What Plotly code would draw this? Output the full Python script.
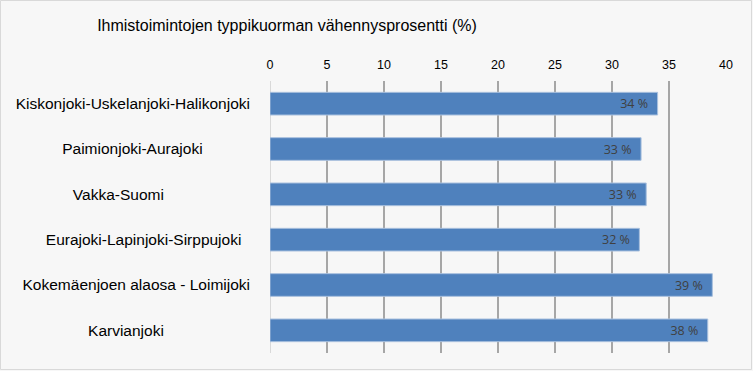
import plotly.graph_objects as go

categories = [
    "Kiskonjoki-Uskelanjoki-Halikonjoki",
    "Paimionjoki-Aurajoki",
    "Vakka-Suomi",
    "Eurajoki-Lapinjoki-Sirppujoki",
    "Kokemäenjoen alaosa - Loimijoki",
    "Karvianjoki",
]
values = [34.0, 32.55, 33.0, 32.4, 38.8, 38.4]
x_ticks = [0, 5, 10, 15, 20, 25, 30, 35, 40]
title_text = "Ihmistoimintojen typpikuorman vähennysprosentti (%)"

# label padding (number of non-breaking spaces) to mimic original label placement
label_pad = [0, 11, 20, 2, 0, 20]

W, H = 753, 371
ML, MR, MT, MB = 270, 27, 81, 18
PW, PH = W - ML - MR, H - MT - MB

ticktext = [c + "\u00a0" * p for c, p in zip(categories, label_pad)]
texts = [f"{round(v):.0f} %\u00a0\u00a0" for v in values]

fig = go.Figure()
fig.add_trace(go.Bar(
    x=values, y=categories, orientation="h",
    marker=dict(color="#4f81bd", line=dict(color="#a9c0de", width=1)),
    text=texts, textposition="inside", insidetextanchor="end", constraintext="none",
    textfont=dict(family="Open Sans", size=12.5, color="#404040"),
    cliponaxis=False, hoverinfo="skip",
))

sans = "Liberation Sans, Arial"
fig.update_layout(
    width=W, height=H,
    margin=dict(l=ML, r=MR, t=MT, b=MB),
    paper_bgcolor="#f7f7f7", plot_bgcolor="#f7f7f7",
    showlegend=False, bargap=0.5,
    title=dict(text=title_text, x=287 / W, xanchor="center", y=1 - 25 / H, yanchor="middle",
               font=dict(family=sans, size=16, color="#000000")),
    xaxis=dict(side="top", range=[0, 40], tickvals=x_ticks, showgrid=True,
               gridcolor="#a6a6a6", gridwidth=1.5,
               zeroline=True, zerolinecolor="#d9d9d9", zerolinewidth=1,
               tickfont=dict(family=sans, size=12.5, color="#000000"),
               ticks="", ticklabelstandoff=9, fixedrange=True),
    yaxis=dict(categoryorder="array", categoryarray=categories, autorange="reversed",
               tickvals=categories, ticktext=ticktext,
               tickfont=dict(family=sans, size=15.5, color="#000000"),
               ticks="", ticklabelstandoff=19, showgrid=False, zeroline=False, showline=False,
               fixedrange=True),
    shapes=[dict(type="rect", xref="paper", yref="paper",
                 x0=(0.5 - ML) / PW, x1=(751.5 - ML) / PW,
                 y0=-(MB - 1.5) / PH, y1=(H - MB - 0.5) / PH,
                 line=dict(color="#d9d9d9", width=1), fillcolor="rgba(0,0,0,0)", layer="below")],
)
fig.write_html("out.html", config={"displayModeBar": False},
               post_script="document.body.style.margin='0';document.body.style.overflow='hidden';")
